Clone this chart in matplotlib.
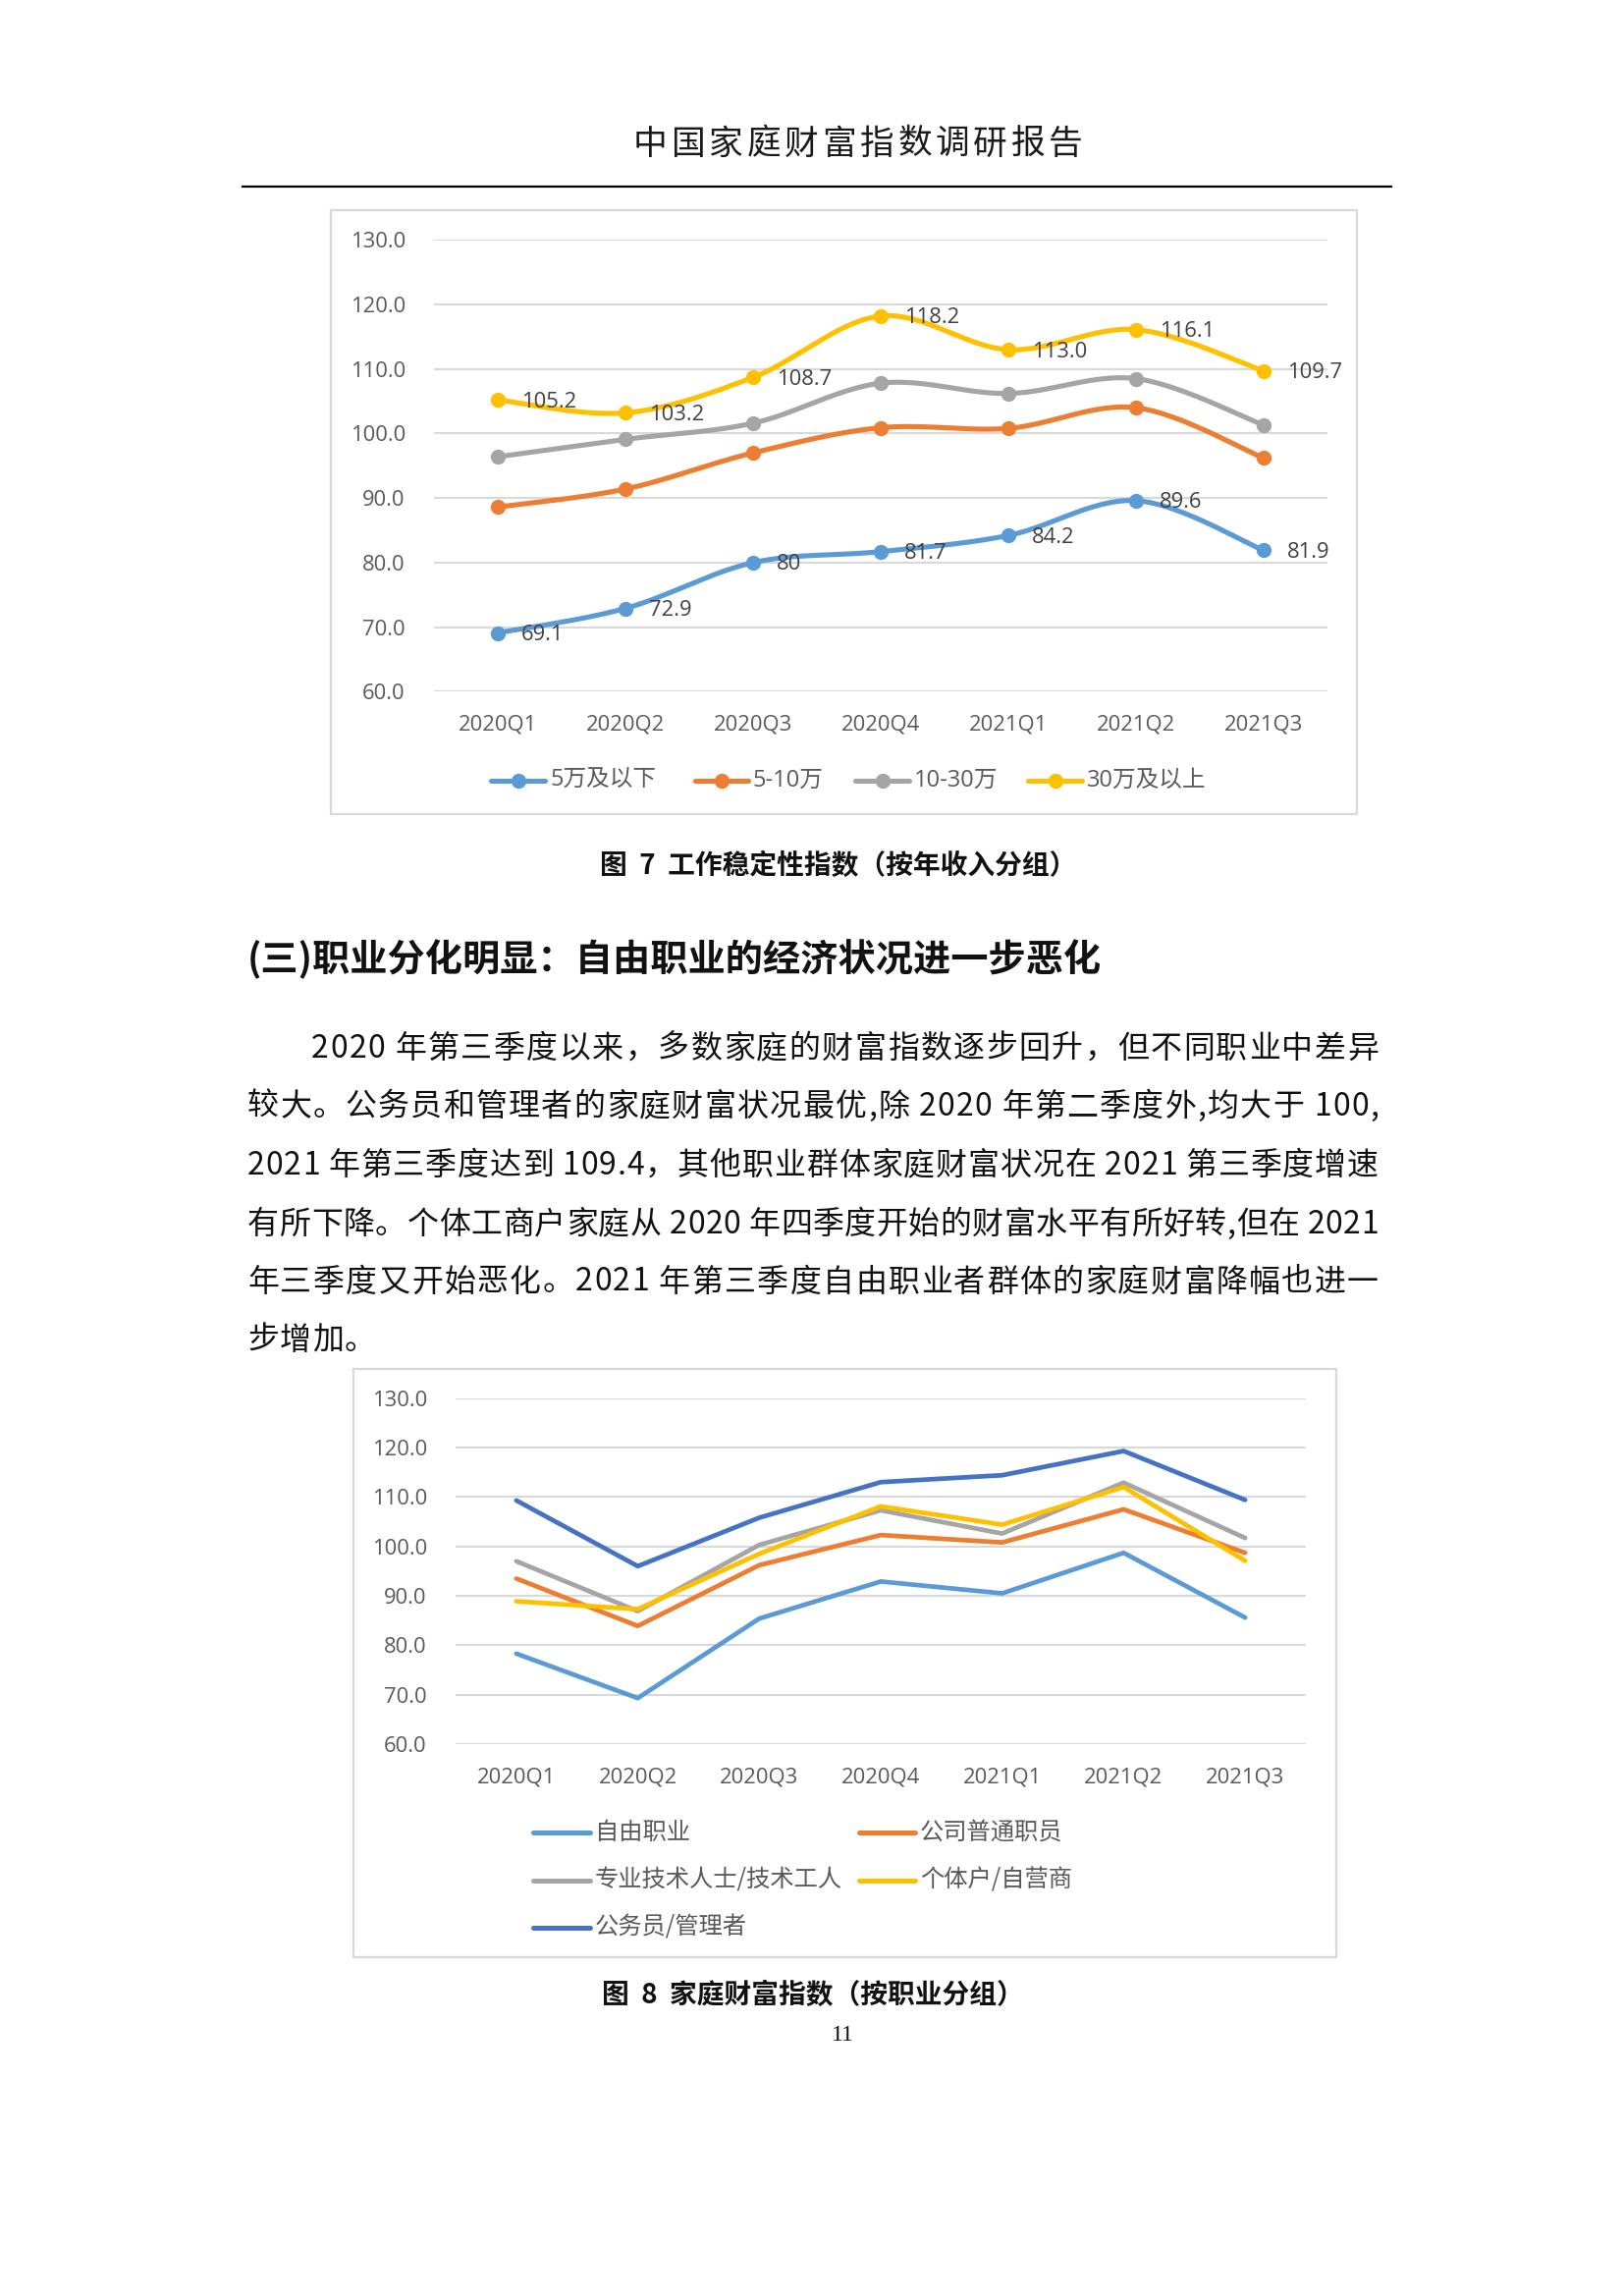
import matplotlib
matplotlib.use("Agg")
import matplotlib.pyplot as plt
from matplotlib.lines import Line2D
from matplotlib.patches import Rectangle
from matplotlib.font_manager import FontProperties
import numpy as np

plt.rcParams['font.family'] = ['Open Sans', 'Noto Sans CJK SC', 'DejaVu Sans']

# ---------------- data ----------------
quarters = ['2020Q1', '2020Q2', '2020Q3', '2020Q4', '2021Q1', '2021Q2', '2021Q3']

# Figure 7: job stability index by annual income
inc_names = ['5万及以下', '5-10万', '10-30万', '30万及以上']
inc_low = [69.1, 72.9, 80.0, 81.7, 84.2, 89.6, 81.9]
inc_5_10 = [88.6, 91.4, 97.0, 100.9, 100.8, 104.0, 96.2]
inc_10_30 = [96.4, 99.1, 101.6, 107.8, 106.2, 108.5, 101.3]
inc_30 = [105.2, 103.2, 108.7, 118.2, 113.0, 116.1, 109.7]
inc_low_labels = ['69.1', '72.9', '80', '81.7', '84.2', '89.6', '81.9']
inc_30_labels = ['105.2', '103.2', '108.7', '118.2', '113.0', '116.1', '109.7']

# Figure 8: household wealth index by occupation
occ_names = ['自由职业', '公司普通职员', '专业技术人士/技术工人', '个体户/自营商', '公务员/管理者']
occ_free = [78.3, 69.3, 85.4, 92.9, 90.5, 98.7, 85.6]
occ_staff = [93.5, 83.9, 96.2, 102.3, 100.8, 107.5, 98.7]
occ_prof = [97.0, 86.9, 100.3, 107.3, 102.6, 112.9, 101.7]
occ_self = [88.9, 87.3, 98.5, 108.1, 104.4, 112.0, 97.1]
occ_civil = [109.3, 96.0, 105.8, 113.0, 114.4, 119.3, 109.4]

y_ticks = [60, 70, 80, 90, 100, 110, 120, 130]

# ---------------- styling ----------------
C_BLUE = '#5B9BD5'
C_ORANGE = '#ED7D31'
C_GRAY = '#A5A5A5'
C_YELLOW = '#FFC000'
C_DBLUE = '#4472C4'
TXT = '#595959'
GRID = '#D9D9D9'

W, H = 1653, 2338
fig = plt.figure(figsize=(W / 100, H / 100), dpi=100)
fig.patch.set_facecolor('white')
renderer = fig.canvas.get_renderer()


def fx(x):
    return x / W


def fy(y):
    return 1 - y / H


def add_axes_px(x0, y_top, x1, y_bot):
    return fig.add_axes([fx(x0), fy(y_bot), (x1 - x0) / W, (y_bot - y_top) / H])


def box_px(x0, y0, x1, y1, color=GRID, lw=1.6):
    r = Rectangle((fx(x0), fy(y1)), (x1 - x0) / W, (y1 - y0) / H,
                  transform=fig.transFigure, facecolor='none', edgecolor=color, lw=lw)
    fig.add_artist(r)


def smooth(xs, ys, n=30):
    """Excel-like smoothed line: cubic Bezier with Catmull-Rom control points."""
    xs = np.asarray(xs, float)
    ys = np.asarray(ys, float)
    P = np.column_stack([xs, ys])
    out = [P[0]]
    for i in range(len(P) - 1):
        p0 = P[i - 1] if i > 0 else P[i]
        p1 = P[i]
        p2 = P[i + 1]
        p3 = P[i + 2] if i + 2 < len(P) else P[i + 1]
        c1 = p1 + (p2 - p0) / 6.0
        c2 = p2 - (p3 - p1) / 6.0
        t = np.linspace(0, 1, n)[1:, None]
        seg = ((1 - t) ** 3) * p1 + 3 * ((1 - t) ** 2) * t * c1 + 3 * (1 - t) * (t ** 2) * c2 + (t ** 3) * p2
        out.extend(seg)
    out = np.array(out)
    return out[:, 0], out[:, 1]


def style_axes(ax, ypad):
    ax.set_xlim(-0.5, len(quarters) - 0.5)
    ax.set_ylim(60, 130)
    ax.set_yticks(y_ticks)
    ax.set_yticklabels([f'{v:.1f}' for v in y_ticks])
    ax.set_xticks(range(len(quarters)))
    ax.set_xticklabels(quarters)
    for s in ax.spines.values():
        s.set_visible(False)
    ax.grid(axis='y', color=GRID, lw=1.5)
    ax.set_axisbelow(True)
    ax.tick_params(axis='both', length=0, labelcolor=TXT, labelsize=15.8)
    ax.tick_params(axis='y', pad=ypad)
    ax.tick_params(axis='x', pad=17)
    ax.set_facecolor('none')


def measure(ch, fp):
    if ch == ' ':
        w1, _, _ = renderer.get_text_width_height_descent('a a', fp, ismath=False)
        w2, _, _ = renderer.get_text_width_height_descent('aa', fp, ismath=False)
        return w1 - w2
    w, _, _ = renderer.get_text_width_height_descent(ch, fp, ismath=False)
    return w


def spread_text(line, x0, x1, y, fp, color='#111111', justify=True, gap=1.0):
    widths = [measure(c, fp) for c in line]
    total = sum(widths)
    extra = (x1 - x0 - total) / (len(line) - 1) if justify else gap
    pos = x0
    for c, w in zip(line, widths):
        if c != ' ':
            fig.text(fx(pos), fy(y), c, ha='left', va='center', fontproperties=fp, color=color)
        pos += w + extra


# ---------------- page header ----------------
header_fp = FontProperties(family=['Noto Sans CJK SC'], size=25, weight='light')
spread_text('中国家庭财富指数调研报告', 645, 1103, 147, header_fp, color='#1a1a1a')
fig.add_artist(Line2D([fx(247), fx(1417)], [fy(190), fy(190)], transform=fig.transFigure,
                      color='black', lw=1.6))

# ---------------- figure 7 ----------------
box_px(337, 214, 1382, 829)
ax1 = add_axes_px(442, 244.3, 1352, 704.3)
style_axes(ax1, ypad=21)
xi = np.arange(len(quarters))
inc_series = [inc_low, inc_5_10, inc_10_30, inc_30]
inc_colors = [C_BLUE, C_ORANGE, C_GRAY, C_YELLOW]
for vals, col in zip(inc_series, inc_colors):
    sx, sy = smooth(xi, vals)
    ax1.plot(sx, sy, color=col, lw=3.7, solid_capstyle='round', zorder=3)
    ax1.plot(xi, vals, 'o', color=col, markersize=10, zorder=4)

for vals, labs in [(inc_low, inc_low_labels), (inc_30, inc_30_labels)]:
    for i, (v, lab) in enumerate(zip(vals, labs)):
        ax1.annotate(lab, (i, v), xytext=(17, -1.5), textcoords='offset points',
                     ha='left', va='center', fontsize=15.8, color='#404040', zorder=5)

# legend (figure 7)
leg1_y = 795
leg1_items = [(500, 555), (708, 762), (871, 926), (1047, 1102)]
for (lx0, lx1), name, col in zip(leg1_items, inc_names, inc_colors):
    fig.add_artist(Line2D([fx(lx0), fx(lx1)], [fy(leg1_y), fy(leg1_y)], transform=fig.transFigure,
                          color=col, lw=3.7, solid_capstyle='round'))
    fig.add_artist(Line2D([fx((lx0 + lx1) / 2)], [fy(leg1_y)], transform=fig.transFigure,
                          color=col, marker='o', markersize=10, lw=0))
    fig.text(fx(lx1 + 5), fy(leg1_y), name, ha='left', va='center', fontsize=17, color=TXT)

fig.text(fx(854), fy(882), '图  7  工作稳定性指数（按年收入分组）', ha='center', va='center',
         fontsize=20, family=['Noto Sans CJK SC'], fontweight='bold', color='#111111')

# ---------------- section heading + body ----------------
fig.text(fx(252), fy(977), '(三)职业分化明显：自由职业的经济状况进一步恶化', ha='left', va='center',
         fontsize=27.5, family=['Noto Sans CJK SC'], fontweight='bold', color='#111111')

body_lines = [
    '2020 年第三季度以来，多数家庭的财富指数逐步回升，但不同职业中差异',
    '较大。公务员和管理者的家庭财富状况最优,除 2020 年第二季度外,均大于 100,',
    '2021 年第三季度达到 109.4，其他职业群体家庭财富状况在 2021 第三季度增速',
    '有所下降。个体工商户家庭从 2020 年四季度开始的财富水平有所好转,但在 2021',
    '年三季度又开始恶化。2021 年第三季度自由职业者群体的家庭财富降幅也进一',
    '步增加。',
]
body_y = [1068, 1127, 1187, 1247, 1305.5, 1365]
body_x0 = [317, 252, 252, 252, 252, 252]
BODY_R = 1404
body_fp = FontProperties(family=['Noto Sans CJK SC'], size=23)

for k, (line, y, x0) in enumerate(zip(body_lines, body_y, body_x0)):
    last = (k == len(body_lines) - 1)
    spread_text(line, x0, BODY_R, y, body_fp, justify=not last, gap=1.0)

# ---------------- figure 8 ----------------
box_px(360, 1394, 1361, 1993)
ax2 = add_axes_px(464, 1423.7, 1330, 1776)
style_axes(ax2, ypad=21)
occ_series = [occ_free, occ_staff, occ_prof, occ_self, occ_civil]
occ_colors = [C_BLUE, C_ORANGE, C_GRAY, C_YELLOW, C_DBLUE]
for vals, col in zip(occ_series, occ_colors):
    ax2.plot(xi, vals, color=col, lw=3.4, solid_capstyle='round', solid_joinstyle='round', zorder=3)

leg2_rows = [1866, 1915, 1963]
leg2_cols = [(543, 601), (875, 932)]
leg2_layout = [(0, 0), (0, 1), (1, 0), (1, 1), (2, 0)]
for (r, c), name, col in zip(leg2_layout, occ_names, occ_colors):
    lx0, lx1 = leg2_cols[c]
    yy = leg2_rows[r]
    fig.add_artist(Line2D([fx(lx0), fx(lx1)], [fy(yy), fy(yy)], transform=fig.transFigure,
                          color=col, lw=3.6, solid_capstyle='round'))
    fig.text(fx(lx1 + 5), fy(yy), name, ha='left', va='center', fontsize=17.5,
             family=['Noto Sans CJK SC'], color=TXT)

fig.text(fx(828), fy(2032), '图  8  家庭财富指数（按职业分组）', ha='center', va='center',
         fontsize=20, family=['Noto Sans CJK SC'], fontweight='bold', color='#111111')

fig.text(fx(858), fy(2072), '11', ha='center', va='center', fontsize=17,
         family=['Liberation Serif'], color='#111111')

fig.savefig('out.png', dpi=100, facecolor='white')
